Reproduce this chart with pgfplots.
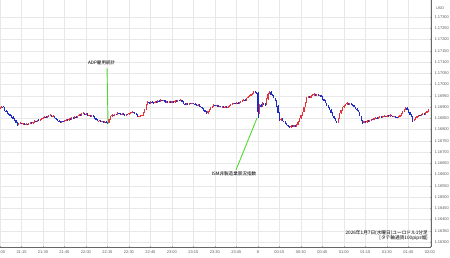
\documentclass[border=0pt]{standalone}
\usepackage{fontspec}
\setmainfont{Liberation Sans}
\newfontfamily\jp{Noto Sans CJK JP}
\usepackage{pgfplots}
\usepackage{pgfplotstable}
\pgfplotsset{compat=1.18}
\definecolor{upc}{RGB}{228,52,62}
\definecolor{dnc}{RGB}{32,44,200}
\definecolor{anng}{RGB}{80,215,50}
\pgfplotstableread{
t o c h l
0 89.4 89.8 90.1 89.2
1 89.8 90.2 90.4 89.6
2 90.2 90.0 90.5 89.8
3 90.0 88.4 90.2 88.2
4 88.4 88.0 88.7 87.7
5 88.0 87.2 88.2 87.0
6 87.2 86.9 87.5 86.6
7 86.9 86.0 87.1 85.8
8 86.0 85.6 86.3 85.3
9 85.6 84.8 85.8 84.6
10 84.8 84.1 85.0 83.8
11 84.1 83.0 84.4 82.8
12 83.0 82.0 83.2 81.7
13 82.0 82.6 82.8 81.8
14 82.6 82.9 83.2 82.4
15 82.9 82.5 83.1 82.3
16 82.5 82.8 83.0 82.2
17 82.8 82.2 83.0 82.0
18 82.2 82.4 82.7 82.0
19 82.4 82.0 82.6 81.8
20 82.0 82.5 82.7 81.8
21 82.5 83.0 83.3 82.3
22 83.0 82.7 83.2 82.5
23 82.7 83.3 83.5 82.5
24 83.3 83.8 84.1 83.1
25 83.8 83.5 84.0 83.3
26 83.5 84.2 84.4 83.3
27 84.2 84.0 84.5 83.8
28 84.0 84.6 84.8 83.8
29 84.6 84.9 85.2 84.4
30 84.9 85.1 85.4 84.7
31 85.1 85.6 85.8 84.9
32 85.6 85.3 85.9 85.1
33 85.3 85.9 86.1 85.1
34 85.9 86.2 86.5 85.7
35 86.2 86.4 86.7 86.0
36 86.4 85.8 86.6 85.6
37 85.8 86.0 86.3 85.6
38 86.0 85.1 86.2 84.9
39 85.1 84.5 85.3 84.3
40 84.5 84.0 84.7 83.8
41 84.0 83.6 84.2 83.3
42 83.6 83.3 83.8 83.0
43 83.3 83.8 84.0 83.1
44 83.8 83.5 84.0 83.3
45 83.5 84.0 84.3 83.3
46 84.0 84.4 84.6 83.8
47 84.4 84.2 84.7 84.0
48 84.2 84.7 84.9 84.0
49 84.7 84.5 85.0 84.3
50 84.5 85.2 85.4 84.3
51 85.2 85.0 85.5 84.8
52 85.0 85.6 85.9 84.8
53 85.6 85.4 85.8 85.2
54 85.4 86.0 86.2 85.2
55 86.0 86.5 86.8 85.8
56 86.5 86.3 86.7 86.1
57 86.3 87.0 87.2 86.1
58 87.0 87.3 87.6 86.8
59 87.3 86.8 87.5 86.6
60 86.8 87.1 87.4 86.6
61 87.1 86.0 87.3 85.8
62 86.0 86.3 86.5 85.8
63 86.3 85.8 86.5 85.6
64 85.8 86.1 86.3 85.6
65 86.1 85.6 86.3 85.4
66 85.6 85.0 85.8 84.8
67 85.0 84.3 85.2 84.1
68 84.3 83.8 84.5 83.6
69 83.8 84.0 84.3 83.6
70 84.0 83.6 84.2 83.4
71 83.6 83.8 84.0 83.4
72 83.8 83.3 84.0 83.1
73 83.3 83.5 83.7 83.1
74 83.5 83.1 83.7 82.9
75 83.1 82.9 83.4 82.4
76 82.9 84.5 84.8 82.7
77 84.5 85.8 86.0 84.3
78 85.8 86.4 86.8 85.6
79 86.4 86.0 86.6 85.8
80 86.0 86.8 87.0 85.8
81 86.8 86.5 87.0 86.3
82 86.5 87.3 87.6 86.3
83 87.3 87.0 87.5 86.8
84 87.0 86.6 87.2 86.4
85 86.6 87.0 87.2 86.4
86 87.0 86.5 87.2 86.3
87 86.5 86.4 86.8 86.2
88 86.4 86.9 87.1 86.2
89 86.9 86.7 87.1 86.5
90 86.7 87.3 87.5 86.5
91 87.3 87.5 87.8 87.1
92 87.5 87.8 88.1 87.3
93 87.8 87.5 88.0 87.3
94 87.5 87.3 87.7 87.1
95 87.3 86.5 87.5 86.3
96 86.5 85.6 86.7 85.4
97 85.6 86.0 86.2 85.4
98 86.0 86.1 86.4 85.8
99 86.1 86.4 86.6 85.9
100 86.4 87.5 87.8 86.2
101 87.5 89.0 89.3 87.3
102 89.0 91.0 91.3 88.8
103 91.0 92.2 92.5 90.8
104 92.2 91.6 92.4 91.4
105 91.6 92.4 92.7 91.4
106 92.4 92.0 92.6 91.8
107 92.0 91.8 92.3 91.6
108 91.8 92.3 92.5 91.6
109 92.3 92.0 92.5 91.8
110 92.0 92.7 92.9 91.8
111 92.7 92.5 92.9 92.3
112 92.5 93.1 93.4 92.3
113 93.1 92.8 93.3 92.6
114 92.8 93.0 93.2 92.6
115 93.0 92.2 93.2 92.0
116 92.2 92.5 92.7 92.0
117 92.5 91.8 92.7 91.6
118 91.8 92.4 92.6 91.6
119 92.4 91.9 92.6 91.7
120 91.9 92.6 92.8 91.7
121 92.6 92.2 92.8 92.0
122 92.2 92.7 92.9 92.0
123 92.7 92.5 92.9 92.3
124 92.5 93.0 93.2 92.3
125 93.0 92.8 93.2 92.6
126 92.8 93.1 93.4 92.6
127 93.1 92.3 93.3 92.1
128 92.3 91.5 92.5 91.3
129 91.5 90.9 91.7 90.7
130 90.9 91.4 91.6 90.7
131 91.4 91.2 91.6 91.0
132 91.2 91.6 91.8 91.0
133 91.6 91.4 91.8 91.2
134 91.4 91.8 92.0 91.2
135 91.8 91.5 92.0 91.3
136 91.5 91.2 91.7 91.0
137 91.2 90.8 91.4 90.6
138 90.8 91.0 91.2 90.6
139 91.0 90.4 91.2 90.2
140 90.4 90.0 90.6 89.8
141 90.0 89.5 90.2 89.3
142 89.5 88.6 89.7 88.4
143 88.6 88.0 88.8 87.8
144 88.0 87.3 88.2 87.0
145 87.3 88.2 88.4 87.1
146 88.2 89.0 89.2 88.0
147 89.0 89.8 90.0 88.8
148 89.8 90.4 90.6 89.6
149 90.4 90.9 91.2 90.2
150 90.9 90.5 91.1 90.3
151 90.5 90.7 90.9 90.3
152 90.7 90.2 90.9 90.0
153 90.2 90.4 90.6 90.0
154 90.4 90.0 90.6 89.8
155 90.0 90.2 90.4 89.8
156 90.2 89.8 90.4 89.6
157 89.8 90.1 90.3 89.6
158 90.1 89.6 90.3 89.4
159 89.6 90.1 90.3 89.4
160 90.1 90.6 90.8 89.9
161 90.6 91.0 91.2 90.4
162 91.0 91.4 91.6 90.8
163 91.4 91.8 92.0 91.2
164 91.8 91.5 92.0 91.3
165 91.5 92.0 92.2 91.3
166 92.0 91.7 92.2 91.5
167 91.7 92.2 92.4 91.5
168 92.2 92.6 92.8 92.0
169 92.6 92.9 93.1 92.4
170 92.9 93.3 93.5 92.7
171 93.3 93.0 93.5 92.8
172 93.0 94.0 94.2 92.8
173 94.0 94.5 94.7 93.8
174 94.5 95.0 95.2 94.3
175 95.0 95.6 95.8 94.8
176 95.6 96.0 96.3 95.4
177 96.0 96.7 97.0 95.8
178 96.7 96.4 96.9 96.2
179 96.4 96.2 96.6 96.0
180 96.2 88.0 96.5 85.1
181 88.0 91.0 91.3 86.8
182 91.0 90.2 91.5 89.8
183 90.2 91.8 92.1 90.0
184 91.8 91.3 92.0 91.0
185 91.3 90.9 91.6 90.5
186 90.9 93.5 93.8 90.7
187 93.5 96.0 96.3 93.3
188 96.0 96.8 97.3 95.8
189 96.8 95.5 97.0 95.3
190 95.5 95.0 95.8 94.7
191 95.0 94.0 95.2 93.8
192 94.0 93.1 94.2 92.8
193 93.1 90.5 93.3 90.2
194 90.5 87.5 90.7 87.2
195 87.5 84.2 87.7 84.0
196 84.2 84.8 85.1 84.0
197 84.8 83.8 85.0 83.6
198 83.8 83.4 84.0 83.2
199 83.4 82.9 83.6 82.6
200 82.9 82.0 83.1 81.8
201 82.0 81.5 82.2 81.3
202 81.5 80.9 81.7 80.5
203 80.9 81.6 81.8 80.7
204 81.6 81.2 81.8 81.0
205 81.2 81.9 82.1 81.0
206 81.9 81.5 82.1 81.3
207 81.5 82.2 82.4 81.3
208 82.2 83.5 83.7 82.0
209 83.5 85.0 85.2 83.3
210 85.0 86.4 86.6 84.8
211 86.4 87.8 88.0 86.2
212 87.8 90.0 90.2 87.6
213 90.0 92.2 92.4 89.8
214 92.2 94.0 94.3 92.0
215 94.0 94.5 94.8 93.8
216 94.5 94.2 94.7 94.0
217 94.2 95.0 95.2 94.0
218 95.0 95.3 95.6 94.8
219 95.3 95.8 96.1 95.1
220 95.8 95.2 96.0 95.0
221 95.2 95.6 95.8 95.0
222 95.6 95.0 95.8 94.8
223 95.0 95.3 95.5 94.8
224 95.3 94.5 95.5 94.3
225 94.5 93.5 94.7 93.3
226 93.5 92.8 93.7 92.6
227 92.8 91.8 93.0 91.6
228 91.8 90.6 92.0 90.4
229 90.6 89.8 90.8 89.6
230 89.8 88.7 90.0 88.5
231 88.7 87.5 88.9 87.3
232 87.5 86.0 87.7 85.8
233 86.0 85.0 86.2 84.8
234 85.0 83.8 85.2 83.6
235 83.8 83.3 84.0 83.0
236 83.3 85.0 85.2 83.1
237 85.0 87.3 87.5 84.8
238 87.3 88.5 88.7 87.1
239 88.5 89.8 90.0 88.3
240 89.8 90.6 90.8 89.6
241 90.6 91.3 91.5 90.4
242 91.3 91.8 92.1 91.1
243 91.8 91.2 92.0 91.0
244 91.2 91.5 91.7 91.0
245 91.5 91.0 91.7 90.8
246 91.0 90.9 91.2 90.6
247 90.9 90.0 91.1 89.8
248 90.0 89.2 90.2 89.0
249 89.2 88.5 89.4 88.3
250 88.5 87.8 88.7 87.6
251 87.8 86.0 88.0 85.8
252 86.0 84.2 86.2 84.0
253 84.2 82.9 84.4 82.6
254 82.9 83.6 83.8 82.7
255 83.6 83.3 83.8 83.1
256 83.3 83.9 84.1 83.1
257 83.9 83.7 84.1 83.5
258 83.7 84.2 84.4 83.5
259 84.2 84.6 84.8 84.0
260 84.6 84.3 84.8 84.1
261 84.3 84.9 85.1 84.1
262 84.9 85.2 85.4 84.7
263 85.2 84.8 85.4 84.6
264 84.8 85.3 85.5 84.6
265 85.3 85.6 85.8 85.1
266 85.6 85.2 85.8 85.0
267 85.2 85.7 85.9 85.0
268 85.7 86.0 86.3 85.5
269 86.0 85.6 86.2 85.4
270 85.6 86.2 86.4 85.4
271 86.2 85.9 86.4 85.7
272 85.9 86.4 86.7 85.7
273 86.4 86.0 86.6 85.8
274 86.0 85.6 86.2 85.4
275 85.6 85.9 86.1 85.4
276 85.9 85.4 86.1 85.2
277 85.4 85.1 85.6 84.9
278 85.1 85.7 85.9 84.9
279 85.7 86.3 86.5 85.5
280 86.3 87.0 87.2 86.1
281 87.0 88.2 88.4 86.8
282 88.2 89.0 89.2 88.0
283 89.0 89.6 89.9 88.8
284 89.6 88.8 89.8 88.6
285 88.8 87.6 89.0 87.4
286 87.6 86.5 87.8 86.3
287 86.5 85.6 86.7 85.4
288 85.6 83.8 85.8 83.5
289 83.8 84.6 84.8 83.6
290 84.6 85.3 85.5 84.4
291 85.3 85.9 86.1 85.1
292 85.9 86.4 86.6 85.7
293 86.4 86.1 86.6 85.9
294 86.1 86.6 86.8 85.9
295 86.6 87.0 87.2 86.4
296 87.0 86.8 87.2 86.6
297 86.8 87.5 87.7 86.6
298 87.5 88.1 88.3 87.3
299 88.1 88.7 89.0 87.9
}\candles
\begin{document}
\begin{tikzpicture}
\begin{axis}[
  at={(0,0)}, anchor=south west,
  scale only axis, width=431bp, height=247bp,
  xmin=0, xmax=300.8, ymin=27.78, ymax=137.56,
  axis x line*=bottom, axis y line*=right,
  axis line style={draw=gray!80!black, line width=0.6pt},
  xtick={0,15,...,300},
  xticklabels={21:00,21:15,21:30,21:45,22:00,22:15,22:30,22:45,23:00,23:15,23:30,23:45,8,00:15,00:30,00:45,01:00,01:15,01:30,01:45,02:00},
  ytick={30,35,...,130},
  yticklabels={1.16300,1.16350,1.16400,1.16450,1.16500,1.16550,1.16600,1.16650,1.16700,1.16750,1.16800,1.16850,1.16900,1.16950,1.17000,1.17050,1.17100,1.17150,1.17200,1.17250,1.17300},
  ticklabel style={font=\fontsize{4}{4.5}\selectfont, text=black!65},
  major tick length=1.5pt,
  tick style={draw=gray!70},
  grid=major,
  major grid style={draw=gray!18, line width=0.4pt},
  clip=false,
  error bars/y dir=both, error bars/y explicit, error bars/error mark=none,
]
% up candles: wicks and bodies
\addplot[draw=none, mark=none, forget plot,
  restrict expr to domain={\thisrow{c}-\thisrow{o}}{0:1000},
  error bars/error bar style={draw=upc, line width=0.45pt}]
  table[x=t, y=l, y error plus expr=\thisrow{h}-\thisrow{l}, y error minus expr=0] {\candles};
\addplot[draw=none, mark=none, forget plot,
  restrict expr to domain={\thisrow{c}-\thisrow{o}}{0:1000},
  error bars/error bar style={draw=upc, line width=1.1pt}]
  table[x=t, y=o, y error plus expr=\thisrow{c}-\thisrow{o}, y error minus expr=0] {\candles};
% down candles
\addplot[draw=none, mark=none, forget plot,
  restrict expr to domain={\thisrow{c}-\thisrow{o}}{-1000:-0.01},
  error bars/error bar style={draw=dnc, line width=0.45pt}]
  table[x=t, y=l, y error plus expr=\thisrow{h}-\thisrow{l}, y error minus expr=0] {\candles};
\addplot[draw=none, mark=none, forget plot,
  restrict expr to domain={\thisrow{c}-\thisrow{o}}{-1000:-0.01},
  error bars/error bar style={draw=dnc, line width=1.1pt}]
  table[x=t, y=c, y error plus expr=\thisrow{o}-\thisrow{c}, y error minus expr=0] {\candles};
% annotations
\draw[anng, line width=0.9pt] (axis cs:74.7,107.3) -- (axis cs:75.4,82.4);
\node[font=\jp\fontsize{4.6}{5}\selectfont, inner sep=0.5pt] at (axis cs:71.0,109.6) {ADP雇用統計};
\draw[anng, line width=0.9pt] (axis cs:164.7,62.0) -- (axis cs:179.4,85.1);
\node[font=\jp\fontsize{4.6}{5}\selectfont, inner sep=0.5pt] at (axis cs:163.3,60.2) {ISM非製造業景況指数};
\end{axis}
\node[anchor=south east, align=right, inner sep=0pt, font=\jp\fontsize{4.7}{5.2}\selectfont] at (428bp,6.5bp) {2026年1月7日(水曜日)ユーロドル1分足\\{[}タテ軸通貨100pips幅{]}};
\node[font=\fontsize{3.8}{4}\selectfont, text=black!65] at (440bp,239bp) {USD};
\pgfresetboundingbox
\useasboundingbox (0,-11bp) rectangle (450bp,247bp);
\end{tikzpicture}
\end{document}
